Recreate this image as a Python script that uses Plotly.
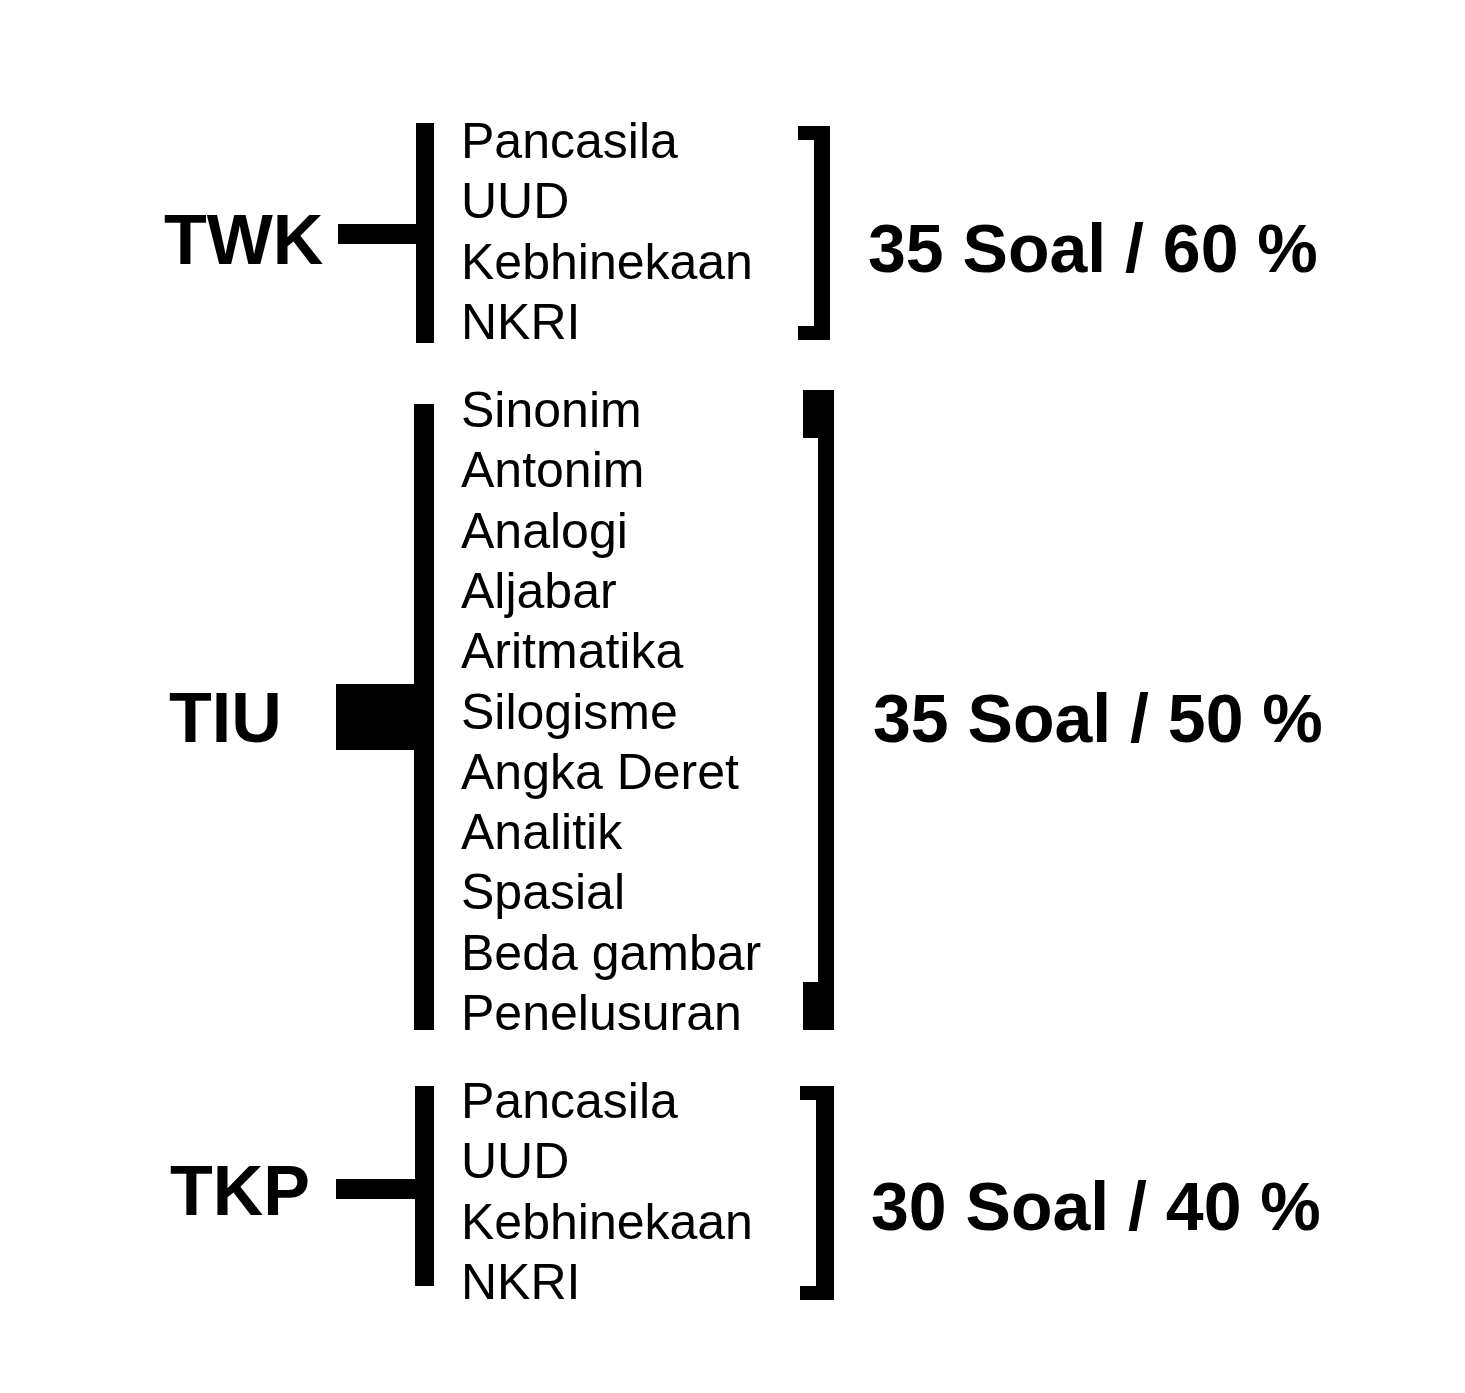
import plotly.graph_objects as go

groups = ["TWK", "TIU", "TKP"]
items = [
    ["Pancasila", "UUD", "Kebhinekaan", "NKRI"],
    ["Sinonim", "Antonim", "Analogi", "Aljabar", "Aritmatika", "Silogisme",
     "Angka Deret", "Analitik", "Spasial", "Beda gambar", "Penelusuran"],
    ["Pancasila", "UUD", "Kebhinekaan", "NKRI"],
]
summary = ["35 Soal / 60 %", "35 Soal / 50 %", "30 Soal / 40 %"]

# layout geometry (pixels)
first_item_y = [133, 402, 1093]
step = 60.3
label_x = [235, 217, 232]
label_y = [232, 710, 1183]
sum_x = [1085, 1090, 1088]
sum_y = [240, 710, 1198]
left_bar = [(408, 426, 115, 335), (406, 426, 396, 1022), (407, 426, 1078, 1278)]
conn = [(330, 410, 216, 236), (328, 410, 676, 742), (328, 410, 1171, 1191)]
rbr = [(806, 822, 118, 332, 790), (810, 826, 382, 1022, 795), (808, 826, 1078, 1292, 792)]
tick_h = [14, 48, 14]

fig = go.Figure()
shapes = []
ann = []
def rect(x0, x1, y0, y1):
    shapes.append(dict(type="rect", xref="x", yref="y", x0=x0, x1=x1, y0=y0, y1=y1,
                       fillcolor="black", line=dict(width=0)))

for i, g in enumerate(groups):
    rect(*left_bar[i])
    rect(*conn[i])
    x0, x1, y0, y1, tx = rbr[i]
    rect(x0, x1, y0, y1)
    rect(tx, x1, y0, y0 + tick_h[i])
    rect(tx, x1, y1 - tick_h[i], y1)
    ann.append(dict(x=label_x[i], y=label_y[i], text=g, showarrow=False,
                    font=dict(family="Liberation Sans", size=70, color="black", weight="bold")))
    ann.append(dict(x=sum_x[i], y=sum_y[i], text=summary[i], showarrow=False,
                    font=dict(family="Liberation Sans", size=68, color="black", weight="bold")))
    for j, it in enumerate(items[i]):
        ann.append(dict(x=451, y=first_item_y[i] + j * step, text=it, showarrow=False,
                        xanchor="left",
                        font=dict(family="Liberation Sans", size=50, color="black")))

fig.add_trace(go.Scatter(x=[0, 1465], y=[0, 1393], mode="markers", marker=dict(opacity=0),
                         hoverinfo="skip", showlegend=False))
fig.update_layout(width=1465, height=1393, margin=dict(l=0, r=0, t=0, b=0),
                  plot_bgcolor="white", paper_bgcolor="white",
                  shapes=shapes, annotations=ann,
                  xaxis=dict(range=[0, 1465], visible=False, fixedrange=True),
                  yaxis=dict(range=[1393, 0], visible=False, fixedrange=True))
fig.write_html("out.html")
